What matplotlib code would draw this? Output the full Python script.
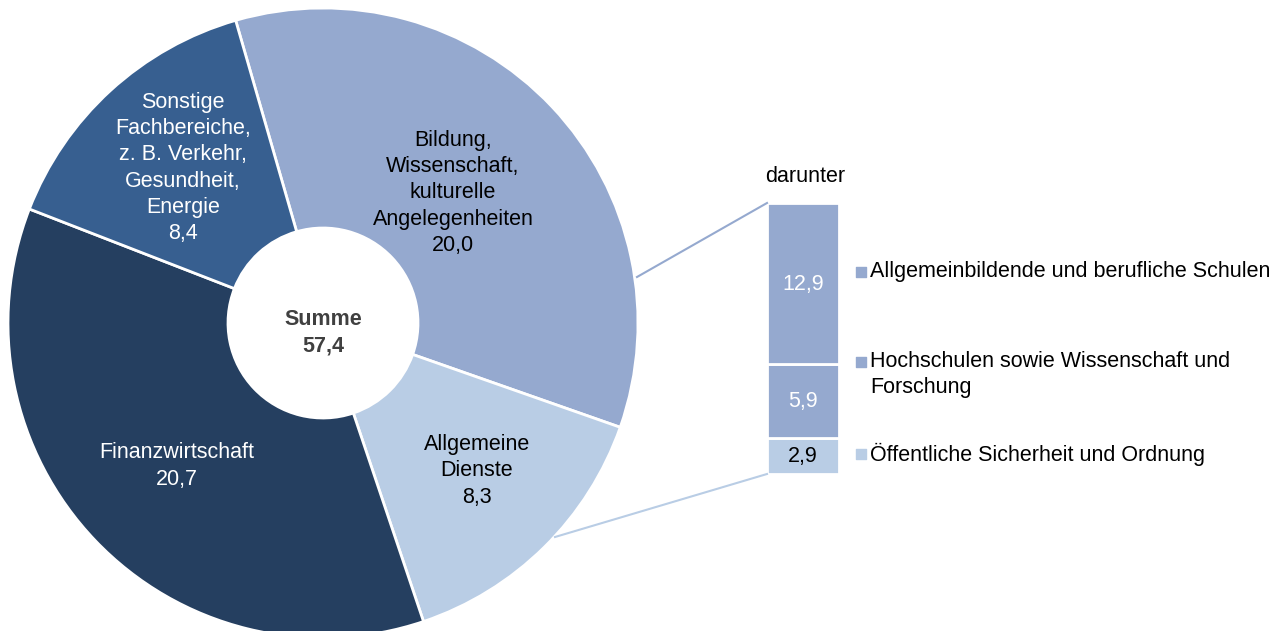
import numpy as np
import matplotlib.pyplot as plt

plt.rcParams['font.family'] = ['Liberation Sans', 'DejaVu Sans']

# Pie data (clockwise from top)
categories = ["Bildung,\nWissenschaft,\nkulturelle\nAngelegenheiten",
              "Allgemeine\nDienste",
              "Finanzwirtschaft",
              "Sonstige\nFachbereiche,\nz. B. Verkehr,\nGesundheit,\nEnergie"]
values = [20.0, 8.3, 20.7, 8.4]
total = 57.4
colors = ["#95A9CF", "#B9CDE5", "#253F60", "#375F90"]
label_colors = ["black", "black", "white", "white"]

# "darunter" bar
sub_labels = ["Öffentliche Sicherheit und Ordnung",
              "Hochschulen sowie Wissenschaft und\nForschung",
              "Allgemeinbildende und berufliche Schulen"]
sub_values = [2.9, 5.9, 12.9]
sub_colors = ["#B9CDE5", "#95A9CF", "#95A9CF"]
sub_text_colors = ["black", "white", "white"]

def fmt(v):
    return f"{v:.1f}".replace(".", ",")

W, H = 1282, 631
fig = plt.figure(figsize=(W / 100, H / 100), dpi=100)
ax = fig.add_axes([0, 0, 1, 1])

cx, cy = 323, H - 323
R, r_in = 315, 95
wedges, _ = ax.pie(values, startangle=106.1, counterclock=False, colors=colors,
                   radius=R, center=(cx, cy),
                   wedgeprops=dict(width=R - r_in, edgecolor="white", linewidth=2))

fs = 15.5
# slice labels (pixel positions from the top)
label_pos = [(453, 193), (477, 471), (177, 466), (183, 168)]
for cat, v, (lx, ly), c in zip(categories, values, label_pos, label_colors):
    ax.text(lx, H - ly, f"{cat}\n{fmt(v)}", ha="center", va="center",
            fontsize=fs, color=c, linespacing=1.33)

ax.text(cx, cy - 10, f"Summe\n{fmt(total)}", ha="center", va="center",
        fontsize=fs, fontweight="bold", color="#404040", linespacing=1.33)

# stacked bar
bx, bw = 803, 72
bar_bottom = H - 474
scale = 271 / sum(sub_values)
bottoms = bar_bottom + scale * np.concatenate([[0], np.cumsum(sub_values)[:-1]])
heights = scale * np.array(sub_values)
ax.bar(bx, heights, width=bw, bottom=bottoms, color=sub_colors,
       edgecolor="white", linewidth=2)
for b, h, v, tc in zip(bottoms, heights, sub_values, sub_text_colors):
    ax.text(bx, b + h / 2 - 1, fmt(v), ha="center", va="center", fontsize=fs, color=tc)

ax.text(bx + 2, H - 176, "darunter", ha="center", va="center", fontsize=fs)

# connector lines
top = bar_bottom + heights.sum()
ax.plot([637, bx - bw / 2], [H - 277, top], color="#95A9CF", lw=1.5)
ax.plot([555, bx - bw / 2], [H - 537, bar_bottom], color="#B9CDE5", lw=1.5)

# legend
leg_y = [454, 374.5, 272]
for lab, c, ly in zip(sub_labels, sub_colors, leg_y):
    nlines = lab.count("\n") + 1
    first_y = H - ly + (nlines - 1) * 12.5
    ax.scatter([861], [first_y], marker="s", s=55, color=c)
    ax.text(870, H - ly, lab, ha="left", va="center", fontsize=fs, linespacing=1.33)

ax.set_xlim(0, W)
ax.set_ylim(0, H)
ax.set_aspect("equal")
ax.axis("off")

fig.savefig("out.png", dpi=100)
